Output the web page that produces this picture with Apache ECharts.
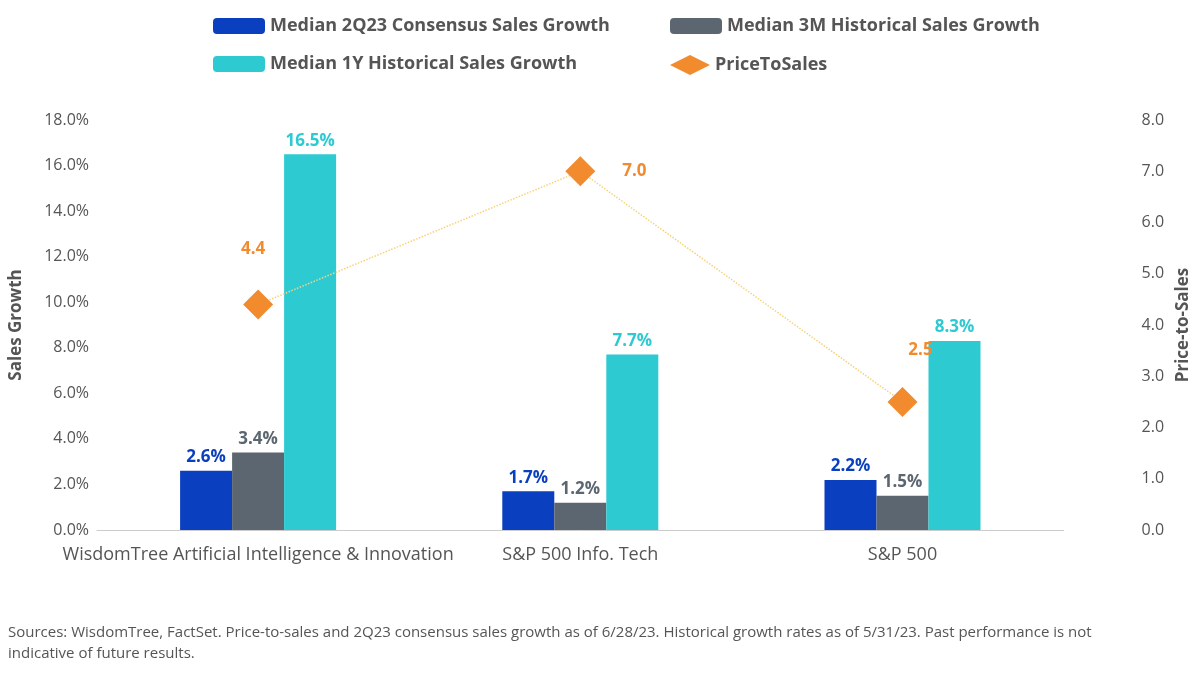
<!DOCTYPE html><html><head><meta charset="utf-8"><script src="https://cdn.jsdelivr.net/npm/echarts@6/dist/echarts.min.js"></script>
<style>body{margin:0}#c{width:1200px;height:678px}</style></head><body><div id="c"></div><script>
const categories=["WisdomTree Artificial Intelligence & Innovation","S&P 500 Info. Tech","S&P 500"];
const consensus=[2.6,1.7,2.2];
const hist3m=[3.4,1.2,1.5];
const hist1y=[16.5,7.7,8.3];
const pts=[4.4,7.0,2.5];
const names=["Median 2Q23 Consensus Sales Growth","Median 3M Historical Sales Growth","Median 1Y Historical Sales Growth","PriceToSales"];
const colors=["#0a3fc0","#5b6670","#2ecad2","#f28a2e"];
const f="'Source Sans Pro','Open Sans',sans-serif";
const lg=(i,l,t)=>({data:[names[i]],left:l,top:t,itemWidth:i==3?40:52,itemHeight:16,textStyle:{fontSize:18,fontWeight:'bold',color:'#555',fontFamily:f}});
const bar=(i,d)=>({name:names[i],type:'bar',data:d,barWidth:52,barGap:'0%',itemStyle:{color:colors[i]},
 label:{show:true,position:'top',formatter:p=>p.value.toFixed(1)+'%',color:colors[i],fontSize:17,fontWeight:'bold',fontFamily:f}});
const lblPos=[{position:'top',offset:[-5,-10]},{position:'right',offset:[5,0]},{position:'top',offset:[18,-6]}];
const c=echarts.init(document.getElementById('c'));
c.setOption({
 legend:[lg(0,208,12),lg(1,665,12),lg(2,208,50),{...lg(3,665,50),icon:'diamond',itemHeight:20}],
 grid:{left:86,right:130,top:120,bottom:148},
 xAxis:{type:'category',data:categories,axisTick:{show:false},axisLine:{lineStyle:{color:'#ccc'}},axisLabel:{interval:0,fontSize:18,color:'#555',fontFamily:f,margin:16}},
 yAxis:[{type:'value',min:0,max:18,interval:2,name:'Sales Growth',nameLocation:'middle',nameGap:72,nameTextStyle:{fontSize:17,fontWeight:'bold',color:'#555',fontFamily:f},
  axisLabel:{formatter:v=>v.toFixed(1)+'%',fontSize:16,color:'#555',fontFamily:f},splitLine:{show:false}},
  {type:'value',min:0,max:8,interval:1,name:'Price-to-Sales',nameLocation:'middle',nameGap:100,nameRotate:90,nameTextStyle:{fontSize:17,fontWeight:'bold',color:'#555',fontFamily:f},
  axisLabel:{formatter:v=>v.toFixed(1),fontSize:16,color:'#555',fontFamily:f,margin:78},splitLine:{show:false}}],
 series:[bar(0,consensus),bar(1,hist3m),bar(2,hist1y),
  {name:names[3],type:'line',yAxisIndex:1,data:pts.map((v,i)=>({value:v,label:lblPos[i]})),symbol:'diamond',symbolSize:30,itemStyle:{color:colors[3]},lineStyle:{color:'#f7d27a',type:'dotted',width:1.5},
   label:{show:true,formatter:p=>p.value.toFixed(1),color:colors[3],fontSize:17,fontWeight:'bold',fontFamily:f,distance:22}}],
 graphic:[{type:'text',left:8,top:622,style:{text:'Sources: WisdomTree, FactSet. Price-to-sales and 2Q23 consensus sales growth as of 6/28/23. Historical growth rates as of 5/31/23. Past performance is not\nindicative of future results.',fontSize:15,fill:'#555',fontFamily:f,lineHeight:21}}]
});
</script></body></html>
